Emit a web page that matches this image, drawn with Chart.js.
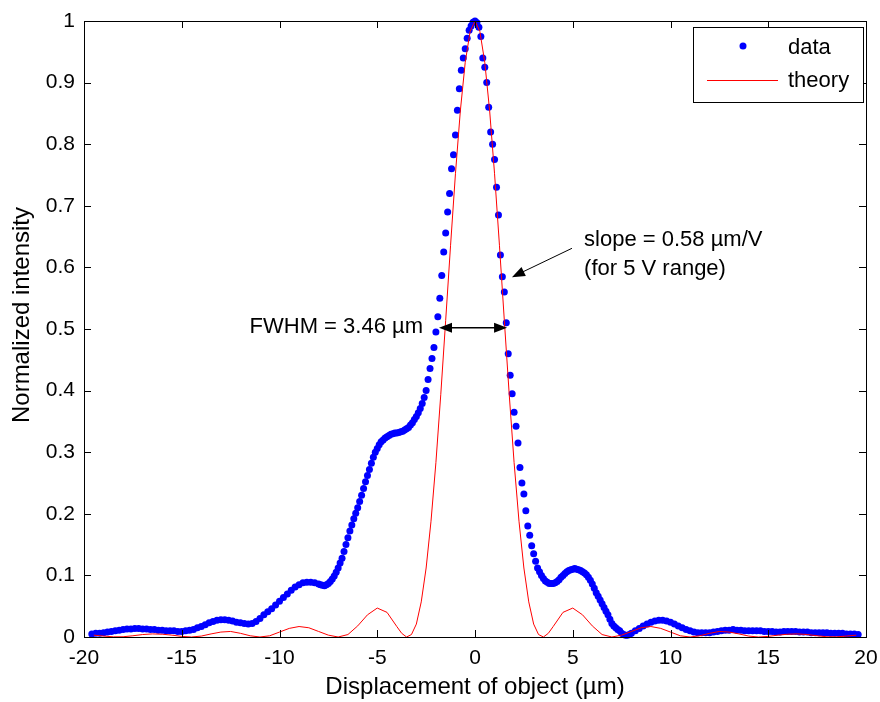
<!DOCTYPE html>
<html>
<head>
<meta charset="utf-8">
<script src="https://cdn.jsdelivr.net/npm/chart.js@4.4.0/dist/chart.umd.min.js"></script>
<style>
body { margin: 0; background: #fff; }
#wrap { width: 880px; height: 702px; }
</style>
</head>
<body>
<div id="wrap"><canvas id="myChart"></canvas></div>
<script>
// tick values
var xTicks = [-20, -15, -10, -5, 0, 5, 10, 15, 20];
var yTicks = [0, 0.1, 0.2, 0.3, 0.4, 0.5, 0.6, 0.7, 0.8, 0.9, 1];

// measured data (blue dots)
var dataX = [
    -19.6, -19.4, -19.2, -19.0, -18.8, -18.6, -18.4, -18.2, -18.0, -17.8,
    -17.6, -17.4, -17.2, -17.0, -16.8, -16.6, -16.4, -16.2, -16.0, -15.8,
    -15.6, -15.4, -15.2, -15.0, -14.8, -14.6, -14.4, -14.2, -14.0, -13.8,
    -13.6, -13.4, -13.2, -13.0, -12.8, -12.6, -12.4, -12.2, -12.0, -11.8,
    -11.6, -11.4, -11.2, -11.0, -10.8, -10.6, -10.4, -10.2, -10.0, -9.8,
    -9.6, -9.4, -9.2, -9.0, -8.8, -8.6, -8.4, -8.2,
    -8.0, -7.9, -7.8, -7.7, -7.6, -7.5, -7.4, -7.3, -7.2, -7.1,
    -7.0, -6.9, -6.8, -6.7, -6.6, -6.5, -6.4, -6.3, -6.2, -6.1,
    -6.0, -5.9, -5.8, -5.7, -5.6, -5.5, -5.4, -5.3, -5.2, -5.1,
    -5.0, -4.9, -4.8, -4.7, -4.6, -4.5, -4.4, -4.3, -4.2, -4.1,
    -4.0, -3.9, -3.8, -3.7, -3.6, -3.5, -3.4, -3.3, -3.2, -3.1,
    -3.0, -2.9, -2.8, -2.7, -2.6, -2.5, -2.4, -2.3, -2.2, -2.1,
    -2.0, -1.9, -1.8, -1.7, -1.6, -1.5, -1.4, -1.3, -1.2, -1.1,
    -1.0, -0.9, -0.8, -0.7, -0.6, -0.5, -0.4, -0.3, -0.2, -0.1,
    0.0, 0.1, 0.2, 0.3, 0.4, 0.5, 0.6, 0.7, 0.8, 0.9,
    1.0, 1.1, 1.2, 1.3, 1.4, 1.5, 1.6, 1.7, 1.8, 1.9,
    2.0, 2.1, 2.2, 2.3, 2.4, 2.5, 2.6, 2.7, 2.8, 2.9,
    3.0, 3.1, 3.2, 3.3, 3.4, 3.5, 3.6, 3.7, 3.8, 3.9,
    4.0, 4.1, 4.2, 4.3, 4.4, 4.5, 4.6, 4.7, 4.8, 4.9,
    5.0, 5.1, 5.2, 5.3, 5.4, 5.5, 5.6, 5.7, 5.8, 5.9,
    6.0, 6.1, 6.2, 6.3, 6.4, 6.5, 6.6, 6.7, 6.8, 6.9,
    7.0, 7.1, 7.2, 7.3, 7.4, 7.5, 7.6, 7.7, 7.8, 7.9,
    8.0,
    8.2, 8.4, 8.6, 8.8, 9.0, 9.2, 9.4, 9.6, 9.8, 10.0,
    10.2, 10.4, 10.6, 10.8, 11.0, 11.2, 11.4, 11.6, 11.8, 12.0,
    12.2, 12.4, 12.6, 12.8, 13.0, 13.2, 13.4, 13.6, 13.8, 14.0,
    14.2, 14.4, 14.6, 14.8, 15.0, 15.2, 15.4, 15.6, 15.8, 16.0,
    16.2, 16.4, 16.6, 16.8, 17.0, 17.2, 17.4, 17.6, 17.8, 18.0,
    18.2, 18.4, 18.6, 18.8, 19.0, 19.2, 19.4, 19.6
];
var dataY = [
    0.005, 0.006, 0.006, 0.007, 0.008, 0.009, 0.010, 0.011, 0.012, 0.013,
    0.013, 0.014, 0.014, 0.013, 0.013, 0.012, 0.012, 0.011, 0.011, 0.010,
    0.010, 0.010, 0.009, 0.009, 0.010, 0.011, 0.012, 0.015, 0.017, 0.020,
    0.023, 0.025, 0.027, 0.028, 0.028, 0.027, 0.026, 0.024, 0.023, 0.022,
    0.021, 0.022, 0.025, 0.030, 0.036, 0.041, 0.046, 0.052, 0.058, 0.064,
    0.070, 0.076, 0.081, 0.085, 0.088, 0.089, 0.089, 0.088,
    0.086, 0.085, 0.084, 0.083, 0.085, 0.087, 0.090, 0.094, 0.099, 0.105,
    0.112, 0.120, 0.128, 0.139, 0.150, 0.161, 0.172, 0.182, 0.192, 0.201,
    0.210, 0.220, 0.230, 0.241, 0.252, 0.262, 0.272, 0.282, 0.292, 0.300,
    0.306, 0.312, 0.317, 0.320, 0.323, 0.325, 0.327, 0.329, 0.330, 0.331,
    0.331, 0.332, 0.333, 0.334, 0.336, 0.338, 0.340, 0.344, 0.348, 0.353,
    0.358, 0.364, 0.371, 0.379, 0.389, 0.400, 0.418, 0.436, 0.452, 0.470,
    0.495, 0.520, 0.550, 0.587, 0.625, 0.656, 0.690, 0.720, 0.760, 0.783,
    0.815, 0.855, 0.890, 0.920, 0.940, 0.955, 0.972, 0.985, 0.992, 0.998,
    1.000, 0.997, 0.990, 0.975, 0.940, 0.925, 0.900, 0.860, 0.820, 0.800,
    0.775, 0.730, 0.685, 0.620, 0.585, 0.560, 0.510, 0.460, 0.425, 0.395,
    0.365, 0.342, 0.315, 0.275, 0.250, 0.232, 0.205, 0.180, 0.165, 0.148,
    0.135, 0.123, 0.112, 0.106, 0.100, 0.095, 0.091, 0.089, 0.087, 0.087,
    0.087, 0.088, 0.090, 0.093, 0.097, 0.100, 0.103, 0.106, 0.108, 0.109,
    0.110, 0.111, 0.110, 0.109, 0.108, 0.106, 0.104, 0.101, 0.097, 0.092,
    0.086, 0.079, 0.072, 0.066, 0.060, 0.054, 0.048, 0.042, 0.036, 0.029,
    0.022, 0.018, 0.015, 0.012, 0.010, 0.006, 0.004, 0.003, 0.003, 0.004,
    0.006,
    0.010, 0.014, 0.018, 0.021, 0.024, 0.026, 0.027, 0.027, 0.026, 0.024,
    0.021, 0.018, 0.015, 0.012, 0.010, 0.008, 0.007, 0.007, 0.007, 0.007,
    0.008, 0.009, 0.010, 0.011, 0.011, 0.012, 0.011, 0.011, 0.010, 0.010,
    0.010, 0.010, 0.010, 0.009, 0.009, 0.009, 0.008, 0.008, 0.009, 0.009,
    0.009, 0.009, 0.008, 0.008, 0.008, 0.007, 0.007, 0.007, 0.007, 0.007,
    0.006, 0.006, 0.006, 0.006, 0.005, 0.005, 0.005, 0.004
];

// theory curve (red line)
var theoryX = [
    -19.5, -19.0, -18.5, -18.0, -17.5, -17.0, -16.5, -16.0, -15.5, -15.0,
    -14.5, -14.0, -13.5, -13.0, -12.5, -12.0, -11.5, -11.0, -10.5, -10.0,
    -9.5, -9.0, -8.5, -8.0, -7.5, -7.0, -6.5, -6.0, -5.5, -5.0, -4.5,
    -4.0, -3.75, -3.5, -3.25, -3.0, -2.75, -2.5, -2.25, -2.0, -1.75,
    -1.5, -1.25, -1.0, -0.75, -0.5, -0.25, 0, 0.25, 0.5, 0.75,
    1.0, 1.25, 1.5, 1.75, 2.0, 2.25, 2.5, 2.75, 3.0, 3.25,
    3.5, 3.75, 4.0,
    4.5, 5.0, 5.5, 6.0, 6.5, 7.0, 7.5, 8.0, 8.5, 9.0,
    9.5, 10.0, 10.5, 11.0, 11.5, 12.0, 12.5, 13.0, 13.5, 14.0,
    14.5, 15.0, 15.5, 16.0, 16.5, 17.0, 17.5, 18.0, 18.5, 19.0, 19.5
];
var theoryY = [
    0.003, 0.0015, 0.0003, 0.0004, 0.002, 0.004, 0.005, 0.0045, 0.003, 0.001,
    0.000, 0.0015, 0.005, 0.008, 0.009, 0.006, 0.002, 0.000, 0.002, 0.008,
    0.014, 0.017, 0.015, 0.009, 0.003, 0.000, 0.004, 0.018, 0.036, 0.047, 0.040,
    0.017, 0.006, 0.000, 0.004, 0.021, 0.057, 0.112, 0.188, 0.283, 0.394,
    0.514, 0.636, 0.752, 0.854, 0.933, 0.983, 1.000, 0.983, 0.933, 0.854,
    0.752, 0.636, 0.514, 0.394, 0.283, 0.188, 0.112, 0.057, 0.021, 0.004,
    0.000, 0.006, 0.017,
    0.040, 0.047, 0.036, 0.018, 0.004, 0.000, 0.003, 0.009, 0.015, 0.017,
    0.014, 0.008, 0.002, 0.000, 0.002, 0.006, 0.009, 0.008, 0.005, 0.0015,
    0.000, 0.001, 0.003, 0.0045, 0.005, 0.004, 0.002, 0.0004, 0.0003, 0.0015, 0.003
];

var fontFam = '"Liberation Sans", Arial, sans-serif';
Chart.defaults.font.family = fontFam;
Chart.defaults.color = '#000';

function arrowHead(ctx, tx, ty, fx, fy, len, half) {
    var a = Math.atan2(ty - fy, tx - fx);
    ctx.beginPath();
    ctx.moveTo(tx, ty);
    ctx.lineTo(tx - len * Math.cos(a) + half * Math.sin(a), ty - len * Math.sin(a) - half * Math.cos(a));
    ctx.lineTo(tx - len * Math.cos(a) - half * Math.sin(a), ty - len * Math.sin(a) + half * Math.cos(a));
    ctx.closePath();
    ctx.fill();
}

var matlabAxes = {
    id: 'matlabAxes',
    afterDraw: function(chart) {
        var ctx = chart.ctx;
        var a = chart.chartArea;
        var xs = chart.scales.x, ys = chart.scales.y;
        ctx.save();
        ctx.strokeStyle = '#000';
        ctx.lineWidth = 1;
        // frame
        ctx.strokeRect(Math.round(a.left) + 0.5, Math.round(a.top) + 0.5,
            Math.round(a.right - a.left), Math.round(a.bottom - a.top));
        // inward ticks on all sides
        ctx.beginPath();
        xTicks.forEach(function(v) {
            var px = Math.round(xs.getPixelForValue(v)) + 0.5;
            ctx.moveTo(px, a.bottom); ctx.lineTo(px, a.bottom - 7);
            ctx.moveTo(px, a.top); ctx.lineTo(px, a.top + 7);
        });
        yTicks.forEach(function(v) {
            var py = Math.round(ys.getPixelForValue(v)) + 0.5;
            ctx.moveTo(a.left, py); ctx.lineTo(a.left + 7, py);
            ctx.moveTo(a.right, py); ctx.lineTo(a.right - 7, py);
        });
        ctx.stroke();

        // y axis title
        ctx.fillStyle = '#000';
        ctx.font = '24px ' + fontFam;
        ctx.save();
        ctx.translate(22, 315);
        ctx.rotate(-Math.PI / 2);
        ctx.textAlign = 'center';
        ctx.textBaseline = 'middle';
        ctx.fillText('Normalized intensity', 0, 0);
        ctx.restore();

        // FWHM double arrow
        var y5 = ys.getPixelForValue(0.502);
        var xl = xs.getPixelForValue(-1.84), xr = xs.getPixelForValue(1.64);
        ctx.lineWidth = 1.5;
        ctx.beginPath(); ctx.moveTo(xl + 8, y5); ctx.lineTo(xr - 8, y5); ctx.stroke();
        arrowHead(ctx, xl, y5, xr, y5, 13, 5);
        arrowHead(ctx, xr, y5, xl, y5, 13, 5);

        // slope arrow
        var sx = xs.getPixelForValue(4.96), sy = ys.getPixelForValue(0.631);
        var tx = xs.getPixelForValue(1.89), ty = ys.getPixelForValue(0.584);
        ctx.lineWidth = 1;
        ctx.beginPath(); ctx.moveTo(sx, sy); ctx.lineTo(tx + 8, ty - 4); ctx.stroke();
        arrowHead(ctx, tx, ty, sx, sy, 13, 5);

        // annotation texts
        ctx.font = '22px ' + fontFam;
        ctx.textBaseline = 'middle';
        ctx.textAlign = 'right';
        ctx.fillText('FWHM = 3.46 \u00b5m', xs.getPixelForValue(-2.66), ys.getPixelForValue(0.503));
        ctx.textAlign = 'left';
        ctx.fillText('slope = 0.58 \u00b5m/V', xs.getPixelForValue(5.58), ys.getPixelForValue(0.644));
        ctx.fillText('(for 5 V range)', xs.getPixelForValue(5.58), ys.getPixelForValue(0.598));

        // legend box
        var lx = a.right - 173, ly = a.top + 6;
        ctx.fillStyle = '#fff';
        ctx.fillRect(lx + 0.5, ly + 0.5, 170, 75);
        ctx.strokeRect(lx + 0.5, ly + 0.5, 170, 75);
        ctx.fillStyle = '#0000ff';
        ctx.beginPath(); ctx.arc(lx + 50, ly + 19, 3.5, 0, Math.PI * 2); ctx.fill();
        ctx.strokeStyle = '#ff0000';
        ctx.beginPath(); ctx.moveTo(lx + 14, ly + 53.5); ctx.lineTo(lx + 85, ly + 53.5); ctx.stroke();
        ctx.fillStyle = '#000';
        ctx.fillText('data', lx + 95, ly + 21);
        ctx.fillText('theory', lx + 95, ly + 54);
        ctx.restore();
    }
};

var ctx = document.getElementById('myChart').getContext('2d');
var chart = new Chart(ctx, {
    type: 'scatter',
    data: {
        datasets: [{
            label: 'data',
            data: dataX.map(function(x, i) { return { x: x, y: dataY[i] }; }),
            backgroundColor: '#0000ff',
            borderColor: '#0000ff',
            pointRadius: 3.5,
            pointBorderWidth: 0,
            showLine: false,
            clip: false,
            order: 2
        }, {
            label: 'theory',
            data: theoryX.map(function(x, i) { return { x: x, y: theoryY[i] }; }),
            borderColor: '#ff0000',
            borderWidth: 1,
            pointRadius: 0,
            showLine: true,
            tension: 0,
            order: 1
        }]
    },
    options: {
        responsive: true,
        maintainAspectRatio: false,
        animation: false,
        devicePixelRatio: 1,
        layout: { padding: { left: 0, top: 21, right: 14, bottom: 0 } },
        plugins: { legend: { display: false }, tooltip: { enabled: false } },
        scales: {
            x: {
                type: 'linear',
                min: -20, max: 20,
                afterBuildTicks: function(s) { s.ticks = xTicks.map(function(v) { return { value: v }; }); },
                afterFit: function(s) { s.height = 65; s.paddingLeft = 0; s.paddingRight = 0; },
                grid: { display: false, drawTicks: false },
                border: { display: false },
                ticks: { padding: 9, font: { size: 21 }, maxRotation: 0, callback: function(v) { return String(v); } },
                title: { display: true, text: 'Displacement of object (\u00b5m)', font: { size: 24 }, padding: 0 }
            },
            y: {
                type: 'linear',
                min: 0, max: 1,
                afterBuildTicks: function(s) { s.ticks = yTicks.map(function(v) { return { value: v }; }); },
                afterFit: function(s) { s.width = 84; s.paddingTop = 0; s.paddingBottom = 0; },
                grid: { display: false, drawTicks: false },
                border: { display: false },
                ticks: { padding: 9, font: { size: 21 }, callback: function(v) { return String(v); } },
                title: { display: false }
            }
        }
    },
    plugins: [matlabAxes]
});
</script>
</body>
</html>
